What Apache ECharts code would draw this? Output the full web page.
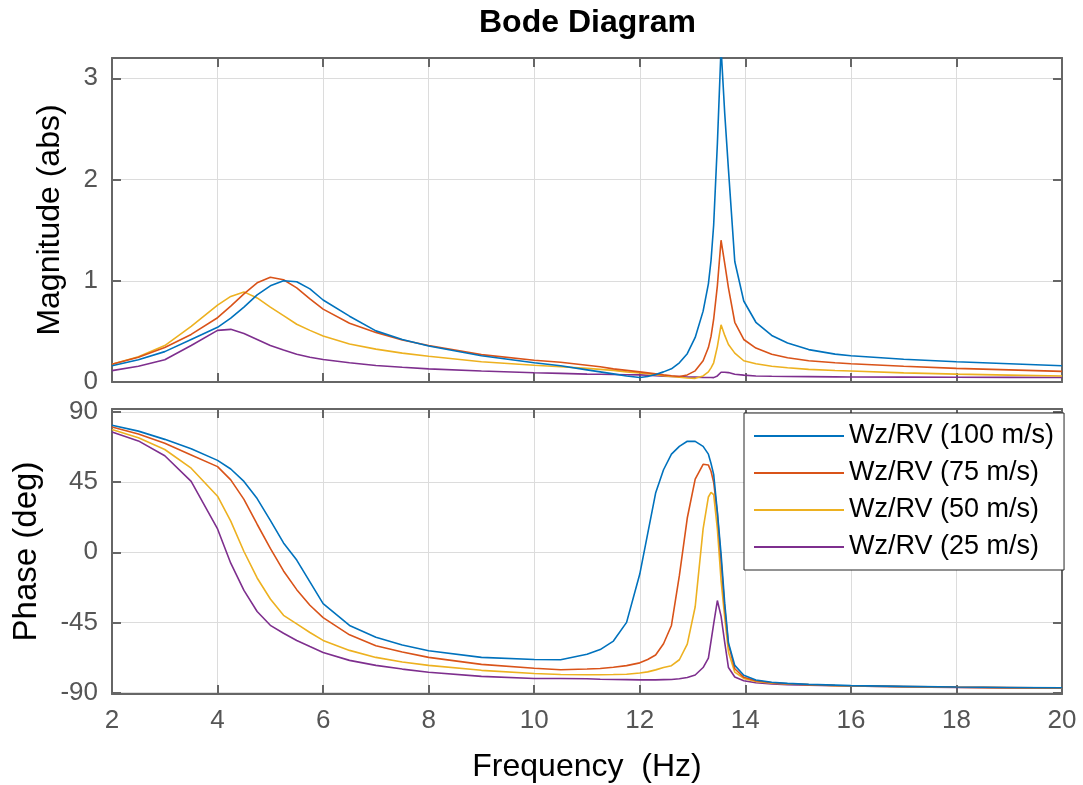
<!DOCTYPE html>
<html>
<head>
<meta charset="utf-8">
<script src="https://cdn.jsdelivr.net/npm/echarts@6/dist/echarts.min.js"></script>
<style>html,body{margin:0;padding:0;background:#fff}#c{width:1083px;height:785px}</style>
</head>
<body>
<div id="c"></div>
<script>
const seriesNames = ['Wz/RV (100 m/s)', 'Wz/RV (75 m/s)', 'Wz/RV (50 m/s)', 'Wz/RV (25 m/s)'];
const freq = [2, 2.5, 3, 3.5, 4, 4.25, 4.5, 4.75, 5, 5.25, 5.5, 5.75, 6, 6.5, 7, 7.5, 8, 9, 10, 10.5, 11, 11.25, 11.5, 11.75, 12, 12.15, 12.3, 12.45, 12.6, 12.75, 12.9, 13.05, 13.2, 13.3, 13.35, 13.4, 13.47, 13.54, 13.61, 13.68, 13.8, 13.97, 14.2, 14.5, 14.8, 15.2, 15.7, 16, 17, 18, 19, 20];
const mag100 = [0.16,0.22,0.30,0.42,0.54, 0.63,0.74,0.86,0.95, 1.0,0.99,0.92,0.81, 0.65,0.505,0.42,0.355, 0.26,0.19,0.16,0.12, 0.10,0.08,0.06,0.045, 0.055,0.075,0.10,0.13, 0.19,0.28,0.44,0.70, 0.97,1.2,1.55,2.35, 3.3,2.65,2.1,1.19, 0.80,0.59,0.46,0.385, 0.32,0.275,0.26,0.225, 0.20,0.18,0.16];
const mag75 = [0.175,0.245,0.34,0.47,0.635, 0.75,0.87,0.98,1.035, 1.01,0.93,0.82,0.72, 0.58,0.49,0.415,0.36, 0.27,0.215,0.195,0.165, 0.15,0.13,0.115,0.10, 0.09,0.08,0.07,0.062, 0.055,0.07,0.11,0.21, 0.34,0.45,0.62,0.95, 1.40,1.17,0.93,0.59, 0.42,0.335,0.275,0.24, 0.21,0.19,0.18,0.155, 0.135,0.12,0.105];
const mag50 = [0.175,0.25,0.36,0.55,0.76, 0.845,0.89,0.83,0.74, 0.655,0.57,0.51,0.455, 0.376,0.325,0.285,0.255, 0.20,0.165,0.15,0.135, 0.125,0.115,0.10,0.09, 0.082,0.072,0.063,0.055, 0.047,0.04,0.036,0.06, 0.10,0.14,0.19,0.35, 0.565,0.46,0.37,0.285, 0.21,0.18,0.155,0.14, 0.125,0.113,0.108,0.09, 0.078,0.068,0.06];
const mag25 = [0.112,0.155,0.22,0.36,0.51, 0.52,0.48,0.42,0.36, 0.315,0.275,0.245,0.222, 0.19,0.163,0.145,0.13, 0.108,0.092,0.085,0.078, 0.076,0.074,0.072,0.07, 0.066,0.062,0.058,0.055, 0.053,0.05,0.048,0.046, 0.045,0.044,0.043,0.06, 0.096,0.097,0.093,0.076, 0.068,0.06,0.057,0.055, 0.053,0.051,0.05,0.048, 0.047,0.046,0.045];
const phase100 = [81.6,77.8,72.5,66.5,59, 53.5,45.5,34.5,20.5, 6,-5,-19,-33, -47,-54.6,-59.5,-63.2, -67.5,-68.8,-69,-65.5, -62.5,-57,-45,-14, 12,38,53,63, 68,71.3,71.2,68, 63,57,50,26, -1,-33,-58,-72.6, -79,-82,-83.5,-84.2, -84.8,-85.3,-85.6,-86.1, -86.5,-86.8,-87];
const phase75 = [80.5,76,70,62.5,55, 46.5,34,18,2.5, -12,-24,-34,-42, -53,-60,-64,-67.5, -72,-74.5,-75.4,-74.9, -74.6,-73.8,-72.8,-71, -68.8,-66,-58.7,-47, -15,22,47,56.5, 56,52,45,25, -5,-36,-59,-74.8, -80.3,-82.5,-83.8,-84.4, -85,-85.5,-85.7,-86.2, -86.6,-86.9,-87.1];
const phase50 = [78.8,73.5,66,54,36, 20,0.5,-16.5,-30, -40.5,-46,-51.5,-56.6, -63,-67.5,-70.5,-72.6, -75.8,-77.8,-78.5,-78.6, -78.6,-78.5,-78.3,-77.5, -76.8,-75.5,-74,-72.8, -69,-59,-35,15, 35.5,38.5,37,15, -18,-42,-64,-77, -81,-83,-84,-84.6, -85.1,-85.6,-85.8,-86.3, -86.7,-87,-87.2];
const phase25 = [77.3,71.5,62,45.5,15, -7,-24.5,-38,-46.9, -52,-56.6,-60.5,-64.3, -69.4,-72.6,-75,-77, -79.7,-81,-81,-81.2, -81.5,-81.7,-81.8,-81.9, -81.9,-81.9,-81.8,-81.7, -81.2,-80.4,-78.8,-74, -68,-57,-46,-31, -41,-58,-74,-80.1, -82.5,-83.8,-84.5,-85, -85.3,-85.7,-85.9,-86.4, -86.8,-87.1,-87.3];
const xTicks = [2, 4, 6, 8, 10, 12, 14, 16, 18, 20];
const magTicks = [0, 1, 2, 3];
const phaseTicks = [-90, -45, 0, 45, 90];
const colors = ['#0072BD', '#D95319', '#EDB120', '#7E2F8E'];

const magData = [mag100, mag75, mag50, mag25];
const phaseData = [phase100, phase75, phase50, phase25];
const pairs = arr => freq.map((f, i) => [f, arr[i]]);

const frameColor = '#666666';
const tickLabelColor = '#555555';
const gridColor = '#dcdcdc';
const FONT = 'Liberation Sans, Arial, sans-serif';

function xAx(gridIndex, position, labels) {
  return {
    type: 'value', gridIndex, position, min: 2, max: 20, interval: 2,
    axisLine: { show: true, onZero: false, lineStyle: { color: frameColor, width: 2 } },
    axisTick: { show: true, inside: true, length: 9, lineStyle: { color: frameColor, width: 2 } },
    axisLabel: { show: labels, color: tickLabelColor, fontSize: 26, fontFamily: FONT, margin: 14 },
    splitLine: { show: position === 'bottom', lineStyle: { color: gridColor, width: 1 } }
  };
}
function yAx(gridIndex, position, min, max, ticks, labels) {
  return {
    type: 'value', gridIndex, position, min, max,
    axisLine: { show: true, onZero: false, lineStyle: { color: frameColor, width: 2 } },
    axisTick: { show: true, inside: true, length: 9, customValues: ticks, lineStyle: { color: frameColor, width: 2 } },
    axisLabel: { show: labels, customValues: ticks, color: tickLabelColor, fontSize: 26, fontFamily: FONT, margin: 14 },
    splitLine: { show: position === 'left', lineStyle: { color: gridColor, width: 1 } }
  };
}

const xAxes = [xAx(0, 'bottom', false), xAx(0, 'top', false), xAx(1, 'bottom', true), xAx(1, 'top', false)];
xAxes[2].name = 'Frequency  (Hz)';
xAxes[2].nameLocation = 'middle';
xAxes[2].nameGap = 57;
xAxes[2].nameTextStyle = { fontSize: 32, color: '#000', fontFamily: FONT };

const yAxes = [
  yAx(0, 'left', 0, 3.2, magTicks, true), yAx(0, 'right', 0, 3.2, magTicks, false),
  yAx(1, 'left', -91, 92, phaseTicks, true), yAx(1, 'right', -91, 92, phaseTicks, false)
];
yAxes[0].name = 'Magnitude (abs)';
yAxes[0].nameLocation = 'middle';
yAxes[0].nameGap = 46;
yAxes[0].nameTextStyle = { fontSize: 32, color: '#000', fontFamily: FONT };
yAxes[2].name = 'Phase (deg)';
yAxes[2].nameLocation = 'middle';
yAxes[2].nameGap = 69;
yAxes[2].nameTextStyle = { fontSize: 33, color: '#000', fontFamily: FONT };

const series = [];
magData.forEach((arr, k) => series.push({
  name: seriesNames[k], type: 'line', xAxisIndex: 0, yAxisIndex: 0, data: pairs(arr),
  symbol: 'none', showSymbol: false, clip: true, color: colors[k], lineStyle: { width: 1.6, color: colors[k] }, z: 10 - k
}));
phaseData.forEach((arr, k) => series.push({
  name: seriesNames[k], type: 'line', xAxisIndex: 2, yAxisIndex: 2, data: pairs(arr),
  symbol: 'none', showSymbol: false, clip: true, color: colors[k], lineStyle: { width: 1.6, color: colors[k] }, z: 10 - k
}));

const chart = echarts.init(document.getElementById('c'), null, { renderer: 'canvas' });
chart.setOption({
  backgroundColor: '#ffffff',
  animation: false,
  title: {
    text: 'Bode Diagram', left: 474, top: 2,
    textStyle: { fontSize: 32, fontWeight: 'bold', color: '#000', fontFamily: FONT }
  },
  legend: {
    data: seriesNames, orient: 'vertical', left: 744, top: 413,
    padding: [9, 10, 9, 9], itemWidth: 90, itemHeight: 14, itemGap: 9,
    borderColor: '#262626', borderWidth: 1, backgroundColor: '#ffffff',
    itemStyle: { opacity: 0 },
    textStyle: { fontSize: 27, color: '#000', fontFamily: FONT, lineHeight: 28 },
    selectedMode: false, z: 20
  },
  grid: [
    { left: 112, right: 21, top: 58, height: 324, containLabel: false },
    { left: 112, right: 21, top: 409, height: 285, containLabel: false }
  ],
  xAxis: xAxes,
  yAxis: yAxes,
  series
});
</script>
</body>
</html>
